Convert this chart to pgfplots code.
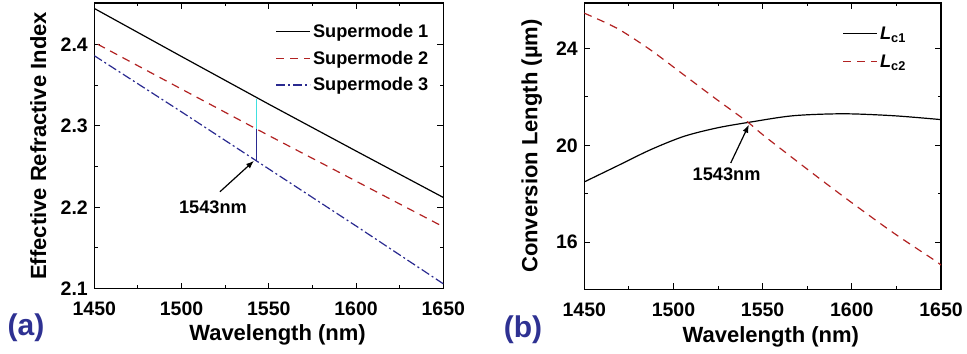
\documentclass[border=0pt]{standalone}
\usepackage{fontspec}
\setmainfont{Liberation Sans}
\usepackage{pgfplots}
\pgfplotsset{compat=1.18}
\usetikzlibrary{arrows.meta}
\definecolor{sred}{HTML}{B22222}
\definecolor{snavy}{HTML}{2A2A90}
\definecolor{scyan}{HTML}{40E0E0}
\definecolor{lblue}{HTML}{2E3192}
\newcommand{\tickfont}{\fontsize{19.5bp}{20bp}\selectfont\bfseries}
\newcommand{\labfont}{\fontsize{22bp}{24bp}\selectfont\bfseries}
\newcommand{\legfont}{\fontsize{18.2bp}{20bp}\selectfont\bfseries}
\pgfplotsset{mystyle/.style={
  scale only axis,
  xmin=1450, xmax=1650, xtick={1450,1500,...,1650}, minor x tick num=1,
  minor y tick num=1,
  tick align=inside,
  major tick length=6bp, minor tick length=3.5bp,
  axis line style={line width=1.1bp},
  every tick/.style={black, line width=1bp},
  /pgf/number format/assume math mode=true,
  tick label style={font=\tickfont},
  xticklabel style={/pgf/number format/1000 sep={}, yshift=-10bp},
  yticklabel style={xshift=-3bp},
  label style={font=\labfont},
  legend style={draw=none, fill=none, font=\legfont},
  legend cell align=left,
  legend image code/.code={\draw[##1] (0bp,0bp) -- (30bp,0bp); \path (0bp,0bp) -- (34bp,0bp);},
}}
\begin{document}
\begin{tikzpicture}
\useasboundingbox (0,0) rectangle (967bp,354bp);
\begin{axis}[mystyle, at={(94.3bp,65.3bp)}, anchor=south west,
  width=349bp, height=285.7bp, ymin=2.1, ymax=2.4507,
  ytick={2.1,2.2,2.3,2.4},
  yticklabel style={/pgf/number format/.cd, fixed, precision=1, fixed zerofill},
  xlabel={Wavelength (nm)}, ylabel={Effective Refractive Index},
  xlabel style={at={(axis description cs:0.525,-0.162)}, anchor=center},
  ylabel style={at={(axis description cs:-0.1605,0.5)}, anchor=center},
  legend style={at={(axis description cs:0.972,0.94)}, anchor=north east, row sep=8bp}]
\addplot[black, line width=1.2bp] coordinates {(1450,2.444) (1500,2.385) (1550,2.3265) (1600,2.269) (1650,2.212)};
\addlegendentry{Supermode 1}
\addplot[sred, line width=1.2bp, dash pattern=on 8bp off 6bp] coordinates {(1452,2.400) (1500,2.345) (1550,2.288) (1600,2.232) (1650,2.176)};
\addlegendentry{Supermode 2}
\addplot[snavy, line width=1.2bp, dash pattern=on 9bp off 3bp on 2bp off 3bp] coordinates {(1450,2.386) (1500,2.317) (1550,2.247) (1600,2.177) (1650,2.106)};
\addlegendentry{Supermode 3}
\addplot[scyan, line width=1.6bp, forget plot] coordinates {(1543,2.296) (1543,2.333)};
\addplot[snavy, line width=1.6bp, forget plot] coordinates {(1543,2.257) (1543,2.296)};
\addplot[black, line width=1.2bp, -{Latex[length=8bp,width=6bp]}, forget plot] coordinates {(1522,2.219) (1541.5,2.257)};
\node[font=\legfont] at (axis cs:1518,2.2) {1543nm};
\end{axis}
\begin{axis}[mystyle, at={(584.3bp,64.7bp)}, anchor=south west,
  width=356.7bp, height=286.3bp, ymin=14.06, ymax=25.87,
  ytick={16,20,24},
  xlabel={Wavelength (nm)}, ylabel={Conversion Length (µm)},
  xlabel style={at={(axis description cs:0.523,-0.1656)}, anchor=center},
  ylabel style={at={(axis description cs:-0.1475,0.5)}, anchor=center},
  legend style={at={(axis description cs:0.916,0.932)}, anchor=north east, row sep=10bp}]
\addplot[black, line width=1.2bp, smooth] coordinates {(1450,18.49) (1468.5,19.15) (1487.2,19.82) (1505.9,20.37) (1524.6,20.72) (1543.3,20.96) (1567.2,21.22) (1595.2,21.30) (1623.3,21.22) (1650,21.06)};
\addlegendentry{\textit{L}\textsubscript{c1}}
\addplot[sred, line width=1.2bp, dash pattern=on 8bp off 6bp, smooth] coordinates {(1450,25.45) (1468.5,24.82) (1487.2,23.93) (1505.9,22.90) (1524.6,21.87) (1541.4,20.97) (1551.2,20.37) (1576.5,18.93) (1598.9,17.69) (1623.3,16.39) (1645.7,15.29) (1650,15.06)};
\addlegendentry{\textit{L}\textsubscript{c2}}
\addplot[black, line width=1.2bp, -{Latex[length=8bp,width=6bp]}, forget plot] coordinates {(1532.1,19.27) (1542.3,20.85)};
\node[font=\legfont] at (axis cs:1529.8,18.79) {1543nm};
\end{axis}
\node[font=\fontsize{30bp}{32bp}\selectfont\bfseries, text=lblue] at (26bp,26bp) {(a)};
\node[font=\fontsize{30bp}{32bp}\selectfont\bfseries, text=lblue] at (523bp,24bp) {(b)};
\end{tikzpicture}
\end{document}
